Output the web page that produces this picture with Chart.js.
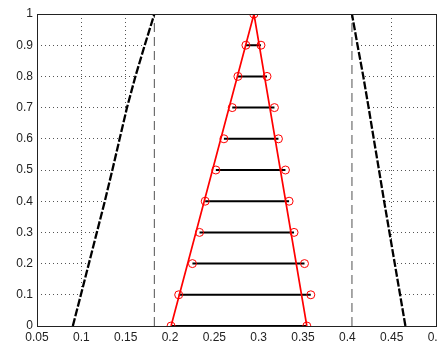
<!DOCTYPE html>
<html lang="en">
<head>
<meta charset="UTF-8">
<title>Fuzzy interval plot</title>
<script src="https://cdn.jsdelivr.net/npm/chart.js"></script>
<style>
    html, body {
        margin: 0;
        padding: 0;
        background: #fff;
        overflow: hidden;
    }
    /* a bit wider than the window so the last x label gets cut like the original */
    #wrap {
        width: 460px;
        height: 345px;
    }
</style>
</head>
<body>
<div id="wrap"><canvas id="grafica"></canvas></div>

<script>
    // membership levels
    const levels = [0, 0.1, 0.2, 0.3, 0.4, 0.5, 0.6, 0.7, 0.8, 0.9, 1];

    // outer black bounds (left rising, right falling)
    const outerLeft  = [0.0904, 0.0995, 0.1085, 0.1175, 0.1265, 0.135, 0.1432, 0.1515, 0.161, 0.1715, 0.1824];
    const outerRight = [0.4655, 0.4595, 0.4535, 0.4475, 0.4415, 0.4357, 0.4298, 0.424, 0.418, 0.4115, 0.4052];

    // vertical dashed support limits
    const supportLimits = [0.1824, 0.4052];

    // alpha-cut endpoints (red circles joined by black bars)
    const cutLeft  = [0.2012, 0.2098, 0.2253, 0.2333, 0.2397, 0.2517, 0.2608, 0.2702, 0.2766, 0.2856, 0.2947];
    const cutRight = [0.3543, 0.3588, 0.3517, 0.3399, 0.3343, 0.3302, 0.3223, 0.3178, 0.3094, 0.3026, 0.2947];

    // red triangle
    const triX = [0.2012, 0.2947, 0.3543];
    const triY = [0, 1, 0];

    const xTickLabels = ['0.05', '0.1', '0.15', '0.2', '0.25', '0.3', '0.35', '0.4', '0.45', '0.5'];
    const yTickLabels = ['0', '0.1', '0.2', '0.3', '0.4', '0.5', '0.6', '0.7', '0.8', '0.9', '1'];

    // white area between the outer bounds (hides the grid there)
    const areaPts = levels.map((y, i) => ({ x: outerLeft[i], y: y }))
        .concat(levels.slice().reverse().map((y, i) => ({ x: outerRight[levels.length - 1 - i], y: y })));

    // black bars, broken with nulls
    const barPts = [];
    levels.forEach((y, i) => {
        if (cutLeft[i] === cutRight[i]) return;
        barPts.push({ x: cutLeft[i], y: y });
        barPts.push({ x: cutRight[i], y: y });
        barPts.push({ x: cutRight[i], y: null });
    });

    const circlePts = levels.map((y, i) => ({ x: cutLeft[i], y: y }))
        .concat(levels.filter((y, i) => cutLeft[i] !== cutRight[i]).map((y, i) => ({ x: cutRight[i], y: y })));

    // frame drawn after the data, like the axes box
    const marco = {
        id: 'marco',
        afterDatasetsDraw(chart) {
            const a = chart.chartArea;
            const ctx = chart.ctx;
            ctx.save();
            ctx.strokeStyle = '#222';
            ctx.lineWidth = 1;
            ctx.strokeRect(Math.round(a.left) + 0.5, Math.round(a.top) + 0.5,
                Math.round(a.right - a.left), Math.round(a.bottom - a.top));
            ctx.restore();
        }
    };

    const fuente = { family: "'Liberation Sans', Arial, sans-serif", size: 12 };

    new Chart(document.getElementById('grafica'), {
        type: 'scatter',
        data: {
            datasets: [
                {
                    data: circlePts,
                    showLine: false,
                    pointStyle: 'circle',
                    pointRadius: 4,
                    pointBorderWidth: 1,
                    pointBorderColor: '#ff0000',
                    pointBackgroundColor: 'rgba(0,0,0,0)',
                    order: 0
                },
                {
                    data: triX.map((x, i) => ({ x: x, y: triY[i] })),
                    showLine: true,
                    borderColor: '#ff0000',
                    borderWidth: 1.7,
                    pointRadius: 0,
                    order: 1
                },
                {
                    data: barPts,
                    showLine: true,
                    spanGaps: false,
                    borderColor: '#000',
                    borderWidth: 2,
                    pointRadius: 0,
                    order: 2
                },
                {
                    data: levels.map((y, i) => ({ x: outerLeft[i], y: y })),
                    showLine: true,
                    borderColor: '#000',
                    borderWidth: 2.3,
                    borderDash: [8, 2],
                    pointRadius: 0,
                    order: 3
                },
                {
                    data: levels.map((y, i) => ({ x: outerRight[i], y: y })),
                    showLine: true,
                    borderColor: '#000',
                    borderWidth: 2.3,
                    borderDash: [8, 2],
                    pointRadius: 0,
                    order: 3
                },
                {
                    data: [{ x: supportLimits[0], y: 0 }, { x: supportLimits[0], y: 1 }],
                    showLine: true,
                    borderColor: '#6e6e6e',
                    borderWidth: 1.2,
                    borderDash: [9, 5],
                    pointRadius: 0,
                    order: 4
                },
                {
                    data: [{ x: supportLimits[1], y: 0 }, { x: supportLimits[1], y: 1 }],
                    showLine: true,
                    borderColor: '#6e6e6e',
                    borderWidth: 1.2,
                    borderDash: [9, 5],
                    pointRadius: 0,
                    order: 4
                },
                {
                    data: areaPts,
                    showLine: true,
                    fill: 'origin',
                    backgroundColor: '#ffffff',
                    borderWidth: 0,
                    borderColor: 'rgba(0,0,0,0)',
                    pointRadius: 0,
                    order: 10
                }
            ]
        },
        options: {
            responsive: true,
            maintainAspectRatio: false,
            animation: false,
            layout: { padding: { top: 14, right: 24, left: 0, bottom: 0 } },
            plugins: {
                legend: { display: false },
                tooltip: { enabled: false }
            },
            scales: {
                x: {
                    type: 'linear',
                    min: 0.05,
                    max: 0.5,
                    afterFit: s => { s.height = 19; },
                    ticks: {
                        stepSize: 0.05,
                        padding: 4,
                        color: '#222',
                        font: fuente,
                        maxRotation: 0,
                        autoSkip: false,
                        callback: (v, i) => xTickLabels[i]
                    },
                    grid: { color: '#555', lineWidth: 1, drawTicks: false },
                    border: { display: false, dash: [1, 3] }
                },
                y: {
                    type: 'linear',
                    min: 0,
                    max: 1,
                    afterFit: s => { s.width = 37; },
                    ticks: {
                        stepSize: 0.1,
                        padding: 4,
                        color: '#222',
                        font: fuente,
                        autoSkip: false,
                        callback: (v, i) => yTickLabels[i]
                    },
                    grid: { color: '#555', lineWidth: 1, drawTicks: false },
                    border: { display: false, dash: [1, 3] }
                }
            }
        },
        plugins: [marco]
    });
</script>
</body>
</html>
